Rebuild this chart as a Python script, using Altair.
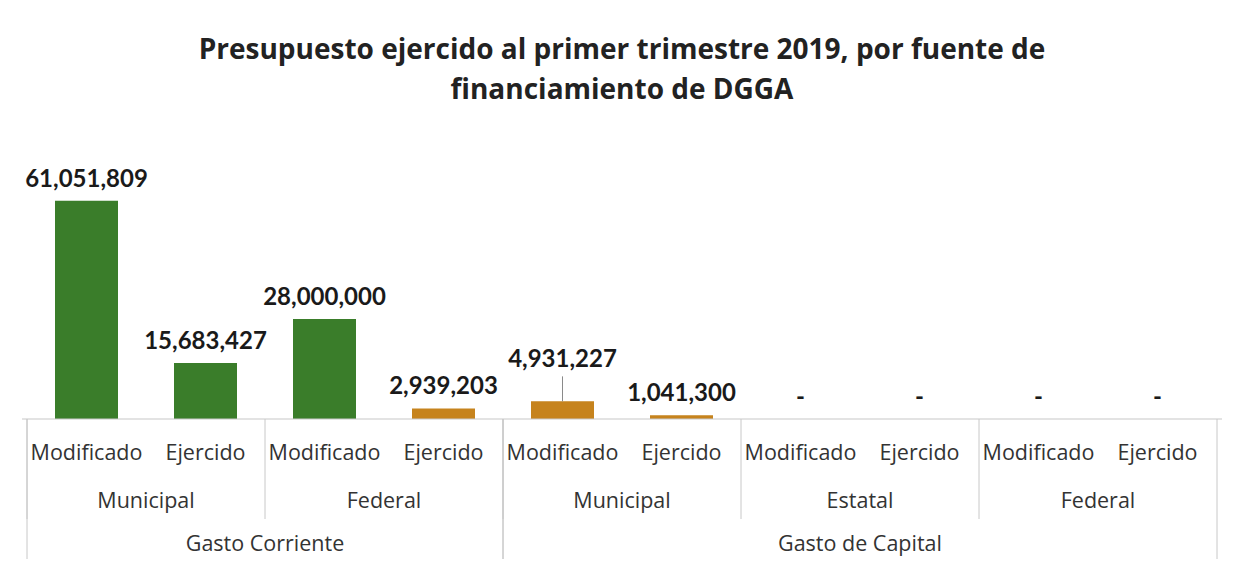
import altair as alt
import pandas as pd

# --- data ---
gasto = ["Gasto Corriente"] * 4 + ["Gasto de Capital"] * 6
fuente = ["Municipal", "Municipal", "Federal", "Federal",
          "Municipal", "Municipal", "Estatal", "Estatal", "Federal", "Federal"]
tipo = ["Modificado", "Ejercido"] * 5
montos = [61051809, 15683427, 28000000, 2939203, 4931227, 1041300, 0, 0, 0, 0]
titulo = ["Presupuesto ejercido al primer trimestre 2019, por fuente de",
          "financiamiento de DGGA"]
colores_barras = ["#3a7d2a", "#3a7d2a", "#3a7d2a", "#c6831d", "#c6831d",
                  "#c6831d", "#c6831d", "#c6831d", "#c6831d", "#c6831d"]

N = len(montos)
df = pd.DataFrame({"n": list(range(1, N + 1)), "gasto": gasto, "fuente": fuente,
                   "tipo": tipo, "monto": montos})
df["etiqueta"] = [("-" if m == 0 else f"{m:,}") for m in montos]

# group tables (consecutive runs) built from the arrays
df["run_f"] = ((df["gasto"] != df["gasto"].shift()) | (df["fuente"] != df["fuente"].shift())).cumsum()
df["run_g"] = (df["gasto"] != df["gasto"].shift()).cumsum()
grp_f = df.groupby("run_f").agg(fuente=("fuente", "first"), a=("n", "min"), b=("n", "max")).reset_index()
grp_g = df.groupby("run_g").agg(gasto=("gasto", "first"), a=("n", "min"), b=("n", "max")).reset_index()
grp_f["izq"] = grp_f["a"] - 1
grp_f["centro"] = (grp_f["a"] - 1 + grp_f["b"]) / 2
grp_g["izq"] = grp_g["a"] - 1
grp_g["der"] = grp_g["b"]
grp_g["centro"] = (grp_g["a"] - 1 + grp_g["b"]) / 2
df = df.drop(columns=["run_f", "run_g"])
grp_f = grp_f.drop(columns=["run_f"])
grp_g = grp_g.drop(columns=["run_g"])

W, H = 1200, 291
GRID = "#c8c8c8"
TXT = "#333333"
AX_FONT = dict(font="Open Sans", fontSize=21.5, color=TXT, baseline="middle")

xscale = alt.Scale(domain=[0, N], nice=False, zero=False)
yscale = alt.Scale(domain=[0, 81400000], nice=False)

base = alt.Chart(df).transform_calculate(pos="datum.n - 0.5")

bars = base.mark_bar(width=63).encode(
    x=alt.X("pos:Q", scale=xscale, axis=None),
    y=alt.Y("monto:Q", scale=yscale, axis=None),
    color=alt.Color("n:N", scale=alt.Scale(domain=list(range(1, N + 1)), range=colores_barras), legend=None),
)

labels = base.transform_filter("datum.n != 5").mark_text(
    font="Lato", fontWeight="bold", fontSize=24, color="#1a1a1a",
    baseline="alphabetic", dy=-14,
).encode(x="pos:Q", y="monto:Q", text="etiqueta:N")

label_special = base.transform_filter("datum.n == 5").mark_text(
    font="Lato", fontWeight="bold", fontSize=24, color="#1a1a1a",
    baseline="alphabetic", dy=-34,
).encode(x="pos:Q", y="monto:Q", text="etiqueta:N")

leader = base.transform_filter("datum.n == 5").mark_rule(
    color="#8a8a8a", strokeWidth=1, y2Offset=-25,
).encode(x="pos:Q", y="monto:Q", y2="monto:Q")

baseline_rule = base.transform_filter("datum.n == 1").transform_calculate(
    cero="0").mark_rule(color=GRID, strokeWidth=1.2).encode(y=alt.Y("cero:Q"))

row1 = base.mark_text(**AX_FONT).encode(
    x="pos:Q", y=alt.value(H + 35), text="tipo:N")

row2 = alt.Chart(grp_f).mark_text(**AX_FONT).encode(
    x=alt.X("centro:Q"), y=alt.value(H + 83), text="fuente:N")

row3 = alt.Chart(grp_g).mark_text(**AX_FONT).encode(
    x=alt.X("centro:Q"), y=alt.value(H + 126), text="gasto:N")

short_rules = alt.Chart(grp_f).mark_rule(color=GRID, strokeWidth=1).encode(
    x=alt.X("izq:Q"), y=alt.value(H), y2=alt.value(H + 100))

long_left = alt.Chart(grp_g).mark_rule(color=GRID, strokeWidth=1).encode(
    x=alt.X("izq:Q"), y=alt.value(H), y2=alt.value(H + 140))
long_right = alt.Chart(grp_g).mark_rule(color=GRID, strokeWidth=1).encode(
    x=alt.X("der:Q"), y=alt.value(H), y2=alt.value(H + 140))

chart = alt.layer(
    bars, short_rules, long_left, long_right, baseline_rule, leader,
    labels, label_special, row1, row2, row3,
).properties(
    width=W, height=H,
    title=alt.TitleParams(titulo, anchor="middle", font="Open Sans", fontSize=28,
                          fontWeight="bold", color="#222222", lineHeight=40, offset=23),
    padding={"left": 14, "top": 120, "right": 4, "bottom": 140},
    autosize=alt.AutoSizeParams(type="none"),
).configure_view(stroke=None)

chart.save("out.html", embed_options={"renderer": "svg", "actions": False})
